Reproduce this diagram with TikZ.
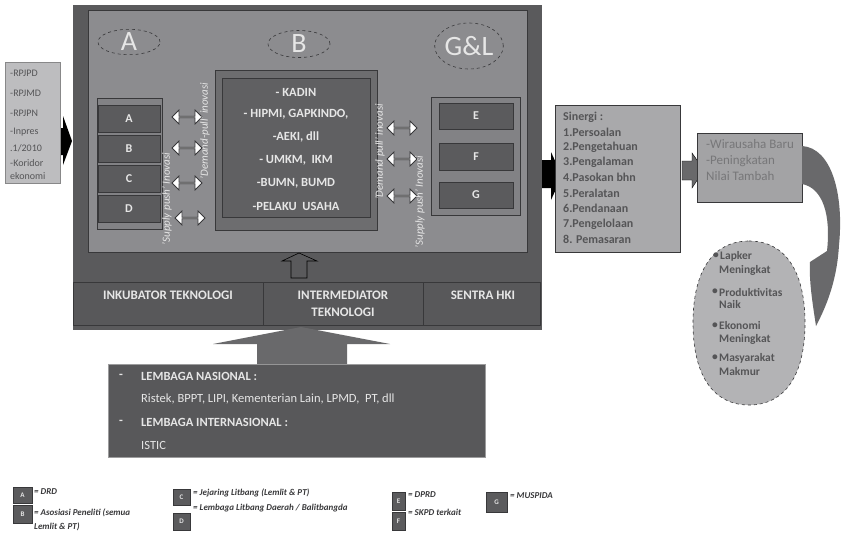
\documentclass[tikz,border=0pt]{standalone}
\usepackage{fontspec}
\setmainfont{Carlito}
\usetikzlibrary{shapes.geometric,shapes.arrows}
\definecolor{cFrame}{HTML}{5A5A5C}
\definecolor{cPanel}{HTML}{8C8C8F}
\definecolor{cCOut}{HTML}{6D6D6F}
\definecolor{cCIn}{HTML}{606062}
\definecolor{cGroup}{HTML}{828285}
\definecolor{cLetter}{HTML}{5B5B5D}
\definecolor{cEdge}{HTML}{38383A}
\definecolor{cBar}{HTML}{58585A}
\definecolor{cLight}{HTML}{E6E6E6}
\definecolor{cSin}{HTML}{A9A9AB}
\definecolor{cRight}{HTML}{A3A3A5}
\definecolor{cEll}{HTML}{B3B3B5}
\definecolor{cLeft}{HTML}{BDBDBF}
\definecolor{cArrow}{HTML}{69696B}
\definecolor{cDText}{HTML}{555557}
\tikzset{
  boxat/.style={anchor=north west, inner sep=0pt, outer sep=0pt},
  letterbox/.style={boxat, draw=cEdge, line width=1pt, fill=cLetter, text=cLight,
     font=\bfseries\fontsize{12}{14}\selectfont},
  groupbox/.style={boxat, draw=cEdge, line width=0.8pt, fill=cGroup},
  bigletter/.style={ellipse, draw=cEdge, dashed, line width=0.6pt, inner sep=0pt,
     text=cLight, font=\fontsize{28}{30}\selectfont},
  ctext/.style={text=cLight, font=\bfseries\fontsize{12.5}{14}\selectfont},
  dblarrow/.style={double arrow, draw=cEdge, line width=0.8pt, fill=white, inner sep=0pt,
     minimum width=14pt, minimum height=30pt, double arrow head extend=3.5pt},
  rottext/.style={rotate=90, text=cLight, font=\itshape\fontsize{11}{12}\selectfont},
  bartext/.style={text=cLight, font=\bfseries\fontsize{13}{17}\selectfont, align=center},
  sintext/.style={anchor=west, text=cDText, font=\bfseries\fontsize{12}{14}\selectfont, inner sep=0pt},
  elltext/.style={anchor=west, text=cDText, font=\bfseries\fontsize{11.5}{13}\selectfont, inner sep=0pt},
  ellbullet/.style={anchor=center, text=cDText, font=\bfseries\fontsize{11.5}{13}\selectfont, inner sep=0pt},
  lefttext/.style={anchor=west, text=cDText, font=\fontsize{10}{11}\selectfont, inner sep=0pt},
  lemtext/.style={anchor=west, text=cLight, font=\fontsize{12.5}{14}\selectfont, inner sep=0pt},
  restext/.style={anchor=west, text=cDText!80, font=\fontsize{13}{15}\selectfont, inner sep=0pt},
  legbox/.style={boxat, draw=cEdge, line width=0.8pt, fill=cLetter, text=cLight,
     font=\bfseries\fontsize{7}{8}\selectfont},
  legtext/.style={anchor=west, text=cEdge, font=\bfseries\itshape\fontsize{9}{10}\selectfont, inner sep=0pt},
}
\begin{document}
\begin{tikzpicture}[x=1pt,y=-1pt]
\useasboundingbox[fill=white] (0,0) rectangle (841,533);

% ---------- outer frame and panel ----------
\node[boxat, fill=cFrame, minimum width=469pt, minimum height=325pt] (frame) at (73,5) {};
\node[boxat, fill=cPanel, draw=cEdge, line width=0.4pt, minimum width=439pt, minimum height=242pt] (panel) at (88,10) {};

% ---------- ellipses ----------
\node[bigletter, minimum width=62pt, minimum height=24pt] (eA) at (129,42) {A};
\node[bigletter, minimum width=62pt, minimum height=27pt] (eB) at (299,44) {B};
\node[bigletter, minimum width=68pt, minimum height=46pt] (eG) at (469,46) {G\&L};

% ---------- central box ----------
\node[boxat, fill=cCOut, draw=cEdge, line width=0.6pt, minimum width=162pt, minimum height=160pt] (cout) at (215,70) {};
\node[boxat, fill=cCIn, draw=cEdge, line width=1pt, minimum width=148pt, minimum height=139pt] (cin) at (222,78) {};
\node[ctext] (k1) at (296,92) {- KADIN};
\node[ctext] (k2) at (296,114) {- HIPMI, GAPKINDO,};
\node[ctext] (k3) at (296,137) {-AEKI, dll};
\node[ctext] (k4) at (296,160) {- UMKM,\ \ IKM};
\node[ctext] (k5) at (296,183) {-BUMN, BUMD};
\node[ctext] (k6) at (296,206) {-PELAKU\ \ USAHA};

% ---------- left group ----------
\node[groupbox, minimum width=65pt, minimum height=131pt] (lg) at (97,98) {};
\node[letterbox, minimum width=62pt, minimum height=27pt] (bA) at (98,105) {A};
\node[letterbox, minimum width=62pt, minimum height=27pt] (bB) at (98,135) {B};
\node[letterbox, minimum width=62pt, minimum height=27pt] (bC) at (98,165) {C};
\node[letterbox, minimum width=62pt, minimum height=27pt] (bD) at (98,195) {D};

\node[dblarrow] (la1) at (187,117) {};
\node[dblarrow] (la2) at (187,148) {};
\node[dblarrow] (la3) at (187,183) {};
\node[dblarrow] (la4) at (190,218) {};

\node[rottext] (tsl) at (167,199) {'Supply push' Inovasi};
\node[rottext] (tdl) at (205,131) {'Demand-pull' inovasi};

% ---------- right group ----------
\node[groupbox, minimum width=89pt, minimum height=118pt] (rg) at (431,97) {};
\node[letterbox, minimum width=74pt, minimum height=26pt] (bE) at (439,103) {E};
\node[letterbox, minimum width=74pt, minimum height=27pt] (bF) at (439,143) {F};
\node[letterbox, minimum width=74pt, minimum height=26pt] (bG) at (439,182) {G};

\node[dblarrow] (ra1) at (402,128) {};
\node[dblarrow] (ra2) at (402,159) {};
\node[dblarrow] (ra3) at (402,196) {};

\node[rottext] (tdr) at (380,152) {'Demand pull' inovasi};
\node[rottext] (tsr) at (420,202) {'Supply push' Inovasi};

% ---------- small hollow arrow and bottom bar ----------
\coordinate (hatip) at (299,253);
\draw[fill=cFrame, draw=black, line width=0.6pt]
  (hatip) -- (317,261) -- (307,261) -- (307,278) -- (291,278) -- (291,261) -- (282,261) -- cycle;

\node[boxat, fill=cBar, draw=cEdge, line width=1pt, minimum width=190pt, minimum height=43pt] (bar1) at (73,282) {};
\node[boxat, fill=cBar, draw=cEdge, line width=1pt, minimum width=160pt, minimum height=43pt] (bar2) at (263,282) {};
\node[boxat, fill=cBar, draw=cEdge, line width=1pt, minimum width=117pt, minimum height=43pt] (bar3) at (423,282) {};
\node[bartext, anchor=north] (t1) at (168,287) {INKUBATOR TEKNOLOGI};
\node[bartext, anchor=north] (t2) at (343,287) {INTERMEDIATOR\\TEKNOLOGI};
\node[bartext, anchor=north] (t3) at (483,287) {SENTRA HKI};

% ---------- big gray up arrow and bottom box ----------
\node[boxat, fill=cBar, draw=cFrame!60, line width=0.4pt, minimum width=377pt, minimum height=93pt] (lem) at (108,364) {};
\coordinate (gtip) at (301,327);
\fill[cArrow] (gtip) -- (390,344) -- (347,344) -- (347,364) -- (257,364) -- (257,344) -- (213,344) -- cycle;
\node[lemtext, font=\bfseries\fontsize{12.5}{14}\selectfont] (lm1) at (119,376) {-};
\node[lemtext, font=\bfseries\fontsize{12.5}{14}\selectfont] (lm2) at (141,376) {LEMBAGA NASIONAL :};
\node[lemtext] (lm3) at (141,399) {Ristek, BPPT, LIPI, Kementerian Lain, LPMD,\ \ PT, dll};
\node[lemtext, font=\bfseries\fontsize{12.5}{14}\selectfont] (lm4) at (119,422) {-};
\node[lemtext, font=\bfseries\fontsize{12.5}{14}\selectfont] (lm5) at (141,422) {LEMBAGA INTERNASIONAL :};
\node[lemtext] (lm6) at (141,445) {ISTIC};

% ---------- left input box ----------
\fill[black] (57,128) -- (63,128) -- (63,116) -- (72,141) -- (63,165) -- (63,155) -- (57,155) -- cycle;
\node[boxat, fill=cLeft, draw=cEdge!60, line width=0.4pt, minimum width=55pt, minimum height=121pt] (inp) at (5,62) {};
\node[lefttext] (i1) at (10,73) {-RPJPD};
\node[lefttext] (i2) at (10,93) {-RPJMD};
\node[lefttext] (i3) at (10,113) {-RPJPN};
\node[lefttext] (i4) at (10,132) {-Inpres};
\node[lefttext] (i5) at (10,148) {.1/2010};
\node[lefttext] (i6) at (10,163) {-Koridor};
\node[lefttext] (i7) at (10,176) {ekonomi};

% ---------- right side ----------
\fill[black] (542,160) -- (551,160) -- (551,152) -- (562,176) -- (551,200) -- (551,188) -- (542,188) -- cycle;
\node[boxat, fill=cSin, draw=cEdge, line width=0.8pt, minimum width=125pt, minimum height=147pt] (sin) at (555,105) {};
\node[sintext] (s0) at (563,117) {Sinergi :};
\node[sintext] (s1) at (563,132) {1.Persoalan};
\node[sintext] (s2) at (563,147) {2.Pengetahuan};
\node[sintext] (s3) at (563,162) {3.Pengalaman};
\node[sintext] (s4) at (563,177) {4.Pasokan bhn};
\node[sintext] (s5) at (563,193) {5.Peralatan};
\node[sintext] (s6) at (563,208) {6.Pendanaan};
\node[sintext] (s7) at (563,224) {7.Pengelolaan};
\node[sintext] (s8) at (563,239) {8. Pemasaran};

\fill[cArrow, draw=black, line width=0.4pt] (682,161) -- (692,161) -- (692,153) -- (704,170) -- (692,188) -- (692,180) -- (682,180) -- cycle;
\node[boxat, fill=cRight, draw=cEdge, line width=0.8pt, minimum width=105pt, minimum height=69pt] (res) at (697,133) {};
\node[restext] (r1) at (706,144) {-Wirausaha Baru};
\node[restext] (r2) at (706,161) {-Peningkatan};
\node[restext] (r3) at (706,176) {Nilai Tambah};

% curved arrow
\fill[cArrow] (802,146) .. controls (832,148) and (844,195) .. (839,245)
   .. controls (837,280) and (827,305) .. (816,326)
   .. controls (812,300) and (809,280) .. (810,262)
   -- (827,251)
   .. controls (831,215) and (823,188) .. (802,184) -- cycle;

% outcome ellipse (slightly boxy)
\coordinate (outc) at (749,323);
\draw[fill=cEll, draw=cEdge, dashed, line width=0.6pt]
  (749,241) .. controls (785,241) and (805,271) .. (805,323)
            .. controls (805,375) and (785,405) .. (749,405)
            .. controls (713,405) and (693,375) .. (693,323)
            .. controls (693,271) and (713,241) .. (749,241) -- cycle;
\node[ellbullet] (b1) at (716,256) {\textbullet};
\node[elltext] (o1) at (720,256) {Lapker};
\node[elltext] (o2) at (719,270) {Meningkat};
\node[ellbullet] (b2) at (715,292) {\textbullet};
\node[elltext] (o3) at (719,292) {Produktivitas};
\node[elltext] (o4) at (719,305) {Naik};
\node[ellbullet] (b3) at (715,326) {\textbullet};
\node[elltext] (o5) at (719,326) {Ekonomi};
\node[elltext] (o6) at (719,339) {Meningkat};
\node[ellbullet] (b4) at (715,358) {\textbullet};
\node[elltext] (o7) at (719,358) {Masyarakat};
\node[elltext] (o8) at (719,372) {Makmur};

% ---------- legend ----------
\node[legbox, minimum width=19pt, minimum height=16pt] (gA) at (13,487) {A};
\node[legtext] (gAt) at (34,492) {= DRD};
\node[legbox, minimum width=19pt, minimum height=18pt] (gB) at (13,505) {B};
\node[legtext] (gBt) at (34,513) {= Asosiasi Peneliti (semua};
\node[legtext] (gBt2) at (34,527) {Lemlit \& PT)};
\node[legbox, minimum width=17pt, minimum height=16pt] (gC) at (173,489) {C};
\node[legtext] (gCt) at (193,493) {= Jejaring Litbang (Lemlit \& PT)};
\node[legbox, minimum width=17pt, minimum height=17pt] (gD) at (173,513) {D};
\node[legtext] (gDt) at (193,508) {= Lembaga Litbang Daerah / Balitbangda};
\node[legbox, minimum width=13pt, minimum height=18pt] (gE) at (392,492) {E};
\node[legtext] (gEt) at (408,495) {= DPRD};
\node[legbox, minimum width=13pt, minimum height=18pt] (gF) at (392,512) {F};
\node[legtext] (gFt) at (408,512) {= SKPD terkait};
\node[legbox, minimum width=21pt, minimum height=20pt] (gG) at (486,492) {G};
\node[legtext] (gGt) at (510,496) {= MUSPIDA};
\end{tikzpicture}
\end{document}
